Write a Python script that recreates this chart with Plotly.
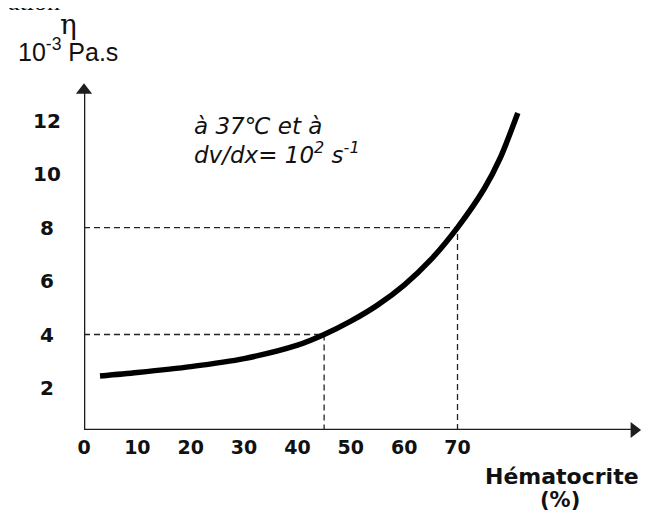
import plotly.graph_objects as go

# ---- data ----
hematocrit = [3, 10, 20, 30, 40, 45, 50, 55, 60, 65, 70, 75, 78, 81.3]
viscosity = [2.45, 2.58, 2.8, 3.1, 3.6, 4.0, 4.5, 5.1, 5.85, 6.8, 8.0, 9.45, 10.6, 12.28]

ref_x = [45, 70]          # hematocrit reference points (%)
ref_y = [4, 8]            # viscosity at those points (10^-3 Pa.s)

x_ticks = [0, 10, 20, 30, 40, 50, 60, 70]
y_ticks = [2, 4, 6, 8, 10, 12]

X_MIN, X_MAX = 0, 104.2
Y_MIN, Y_MAX = 0.43, 13.33

# the page body has an 8px margin: the figure is drawn from (8, 8)
OFF = 8
W, H = 657 - OFF, 512 - OFF
ML, MR, MT, MB = 84 - OFF, 17, 85 - OFF, 82
PW, PH = W - ML - MR, H - MT - MB

def px_x(px):
    """window pixel x -> paper x"""
    return (px - OFF - ML) / PW

def px_y(py):
    """window pixel y -> paper y"""
    return (H + OFF - MB - py) / PH

AX_COLOR = "#1e1e1e"
fig = go.Figure()

# dashed guide lines
for hx, hy in zip(ref_x, ref_y):
    fig.add_trace(go.Scatter(
        x=[X_MIN, hx, hx], y=[hy, hy, Y_MIN], mode="lines",
        line=dict(color="#222222", width=1.3, dash="6px,4px"),
        hoverinfo="skip", showlegend=False))

# axis lines (drawn as lines with arrow-head markers at their ends)
fig.add_trace(go.Scatter(
    x=[X_MAX - 1.2, X_MIN, X_MIN], y=[Y_MIN, Y_MIN, Y_MAX - 0.25], mode="lines",
    line=dict(color=AX_COLOR, width=2.6), cliponaxis=False,
    hoverinfo="skip", showlegend=False))
fig.add_trace(go.Scatter(
    x=[X_MAX - 1.1], y=[Y_MIN], mode="markers", cliponaxis=False,
    marker=dict(symbol="triangle-right", size=14, color=AX_COLOR, line=dict(width=0)),
    hoverinfo="skip", showlegend=False))
fig.add_trace(go.Scatter(
    x=[X_MIN], y=[Y_MAX - 0.2], mode="markers", cliponaxis=False,
    marker=dict(symbol="triangle-up", size=14, color=AX_COLOR, line=dict(width=0)),
    hoverinfo="skip", showlegend=False))

# main curve
fig.add_trace(go.Scatter(
    x=hematocrit, y=viscosity, mode="lines",
    line=dict(color="black", width=5.5, shape="spline", smoothing=0.8),
    showlegend=False))

annotations = []

# y tick labels (centred, as in the reference)
for v in y_ticks:
    annotations.append(dict(x=px_x(46.5), y=v, xref="paper", yref="y",
                            text=str(v), showarrow=False, xanchor="center", yanchor="middle",
                            font=dict(family="DejaVu Sans", size=20, color="#111111", weight="bold")))

# condition text
annotations.append(dict(x=px_x(192), y=11.78, xref="paper", yref="y",
                        text="à 37℃ et à", showarrow=False, xanchor="left", yanchor="middle",
                        font=dict(family="DejaVu Sans", size=23, color="#111111", style="italic")))
annotations.append(dict(x=px_x(192), y=10.8, xref="paper", yref="y",
                        text="dv/dx= 10<sup>2</sup> s<sup>-1</sup>", showarrow=False,
                        xanchor="left", yanchor="middle",
                        font=dict(family="DejaVu Sans", size=23, color="#111111", style="italic")))

# axis titles
annotations.append(dict(x=px_x(68), y=px_y(25), xref="paper", yref="paper",
                        text="η", showarrow=False, xanchor="center", yanchor="middle",
                        font=dict(family="DejaVu Serif", size=28, color="#111111")))
annotations.append(dict(x=px_x(68), y=px_y(50), xref="paper", yref="paper",
                        text="10<sup>-3</sup> Pa.s", showarrow=False, xanchor="center", yanchor="middle",
                        font=dict(family="Liberation Sans", size=25, color="#111111")))
annotations.append(dict(x=px_x(562), y=px_y(476.5), xref="paper", yref="paper",
                        text="Hématocrite", showarrow=False, xanchor="center", yanchor="middle",
                        font=dict(family="DejaVu Sans", size=22, color="#111111", weight="bold")))
annotations.append(dict(x=px_x(560), y=px_y(500), xref="paper", yref="paper",
                        text="(%)", showarrow=False, xanchor="center", yanchor="middle",
                        font=dict(family="DejaVu Sans", size=21, color="#111111", weight="bold")))

# cropped text from the source page at the very top
annotations.append(dict(x=px_x(6), y=px_y(2), xref="paper", yref="paper",
                        text="ation", showarrow=False, xanchor="left", yanchor="middle",
                        font=dict(family="Liberation Serif", size=26, color="#111111")))

fig.update_layout(
    width=W, height=H, autosize=False,
    margin=dict(l=ML, r=MR, t=MT, b=MB, pad=0),
    paper_bgcolor="white", plot_bgcolor="white",
    xaxis=dict(range=[X_MIN, X_MAX], showgrid=False, zeroline=False, showline=False,
               tickmode="array", tickvals=x_ticks, ticktext=[str(t) for t in x_ticks],
               ticks="", ticklabelstandoff=4,
               tickfont=dict(family="DejaVu Sans", size=19, color="#111111", weight="bold")),
    yaxis=dict(range=[Y_MIN, Y_MAX], showgrid=False, zeroline=False, showline=False,
               showticklabels=False, ticks=""),
    annotations=annotations,
    showlegend=False,
)

fig.write_html("out.html")
